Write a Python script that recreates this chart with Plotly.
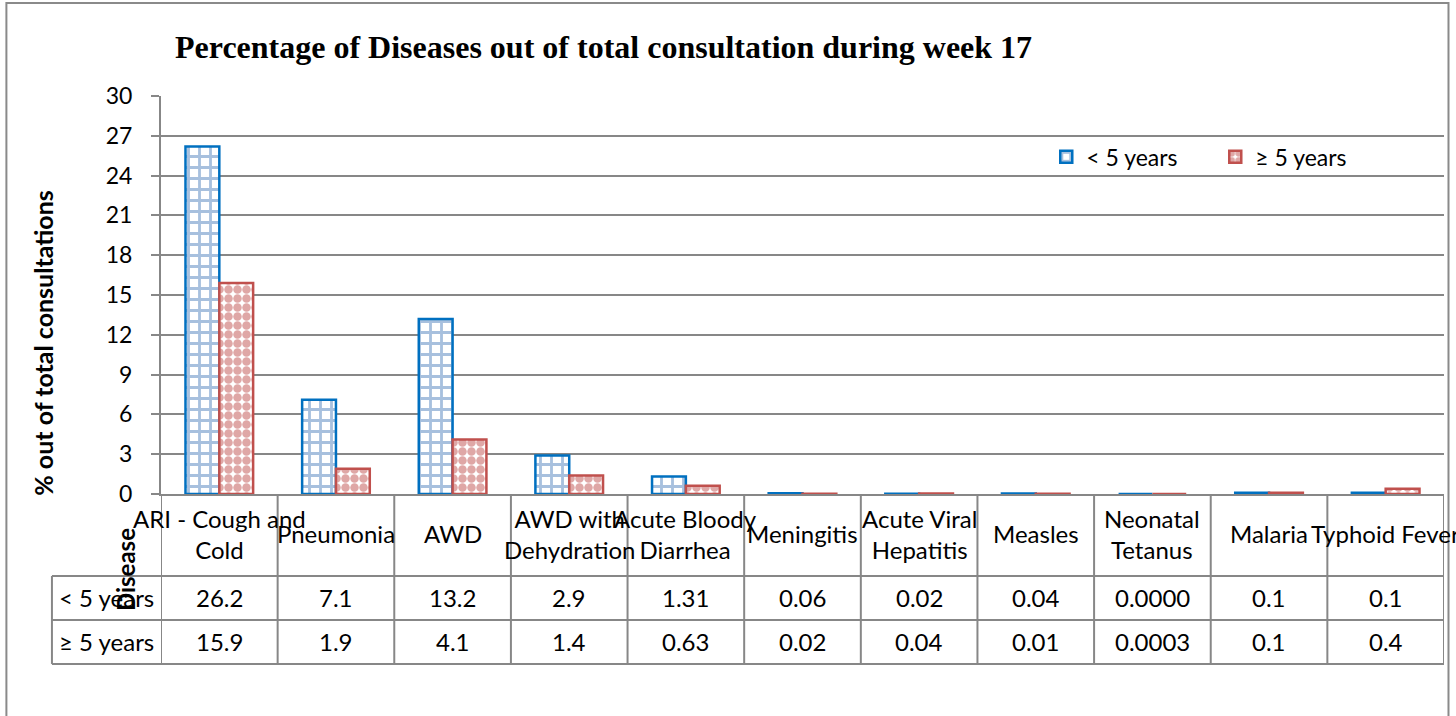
import plotly.graph_objects as go

categories = ["ARI - Cough and Cold", "Pneumonia", "AWD", "AWD with Dehydration",
              "Acute Bloody Diarrhea", "Meningitis", "Acute Viral Hepatitis",
              "Measles", "Neonatal Tetanus", "Malaria", "Typhoid Fever"]
category_labels = ["ARI - Cough and<br>Cold", "Pneumonia", "AWD", "AWD with<br>Dehydration",
                   "Acute Bloody<br>Diarrhea", "Meningitis", "Acute Viral<br>Hepatitis",
                   "Measles", "Neonatal<br>Tetanus", "Malaria", "Typhoid Fever"]
under5 = [26.2, 7.1, 13.2, 2.9, 1.31, 0.06, 0.02, 0.04, 0.0000, 0.1, 0.1]
over5 = [15.9, 1.9, 4.1, 1.4, 0.63, 0.02, 0.04, 0.01, 0.0003, 0.1, 0.4]
decimals = [1, 1, 1, 1, 2, 2, 2, 2, 4, 1, 1]
series_names = ["< 5 years", "≥ 5 years"]
y_ticks = list(range(0, 31, 3))

BLUE = "#0070C0"
BLUE_PAT = "#4F81BD"
RED = "#C0504D"
GRID = "#878787"
FONT = "Lato"

fig = go.Figure()
fig.add_trace(go.Bar(
    x=categories, y=under5, name=series_names[0],
    marker=dict(color="white", line=dict(color=BLUE, width=2.5),
                pattern=dict(shape="+", fgcolor=BLUE_PAT, bgcolor="white", size=11, solidity=0.45)),
))
fig.add_trace(go.Bar(
    x=categories, y=over5, name=series_names[1],
    marker=dict(color="white", line=dict(color=RED, width=2.5),
                pattern=dict(shape=".", fgcolor=RED, bgcolor="white", size=9, solidity=0.7)),
))

# table geometry (paper coordinates)
Y_HDR = -0.206
Y_R1 = -0.3166
Y_R2 = -0.427
X_LEFT = -0.085

shapes = []
line = dict(color=GRID, width=2)
for yy in [Y_HDR, Y_R1, Y_R2]:
    shapes.append(dict(type="line", xref="paper", yref="paper", x0=X_LEFT, x1=1, y0=yy, y1=yy, line=line))
n = len(categories)
for i in range(n + 1):
    shapes.append(dict(type="line", xref="x", yref="paper", x0=i - 0.5, x1=i - 0.5, y0=Y_R2, y1=0, line=line))
shapes.append(dict(type="line", xref="paper", yref="paper", x0=X_LEFT, x1=X_LEFT, y0=Y_R2, y1=Y_HDR, line=line))
# outer chart border
shapes.append(dict(type="rect", xref="paper", yref="paper", x0=-0.1205, x1=1.0035, y0=-0.6, y1=1.2337,
                   line=dict(color="#8a8a8a", width=2)))

annotations = []
annotations.append(dict(text="<b>Percentage of Diseases out of total consultation during week 17</b>",
                        xref="paper", yref="paper", x=0.009, y=1.124, xanchor="left", yanchor="middle",
                        showarrow=False, font=dict(family="Liberation Serif", size=32, color="black")))
annotations.append(dict(text="<b>% out of total consultations</b>", xref="paper", yref="paper",
                        x=-0.0915, y=0.379, xanchor="center", yanchor="middle", textangle=-90,
                        showarrow=False, font=dict(family=FONT, size=25, color="black")))
annotations.append(dict(text="<b>Disease</b>", xref="paper", yref="paper",
                        x=-0.028, y=-0.191, xanchor="center", yanchor="middle", textangle=-90,
                        showarrow=False, font=dict(family=FONT, size=24, color="black")))
for i, lab in enumerate(category_labels):
    annotations.append(dict(text=lab, xref="x", yref="paper", x=i, y=-0.1005, xanchor="center",
                            yanchor="middle", showarrow=False,
                            font=dict(family=FONT, size=24, color="black")))
for row_y, name, vals in [((Y_HDR + Y_R1) / 2, series_names[0], under5),
                          ((Y_R1 + Y_R2) / 2, series_names[1], over5)]:
    annotations.append(dict(text=name, xref="paper", yref="paper", x=X_LEFT + 0.004, y=row_y,
                            xanchor="left", yanchor="middle", showarrow=False,
                            font=dict(family=FONT, size=24, color="black")))
    for i, v in enumerate(vals):
        annotations.append(dict(text=f"{v:.{decimals[i]}f}", xref="x", yref="paper", x=i, y=row_y,
                                xanchor="center", yanchor="middle", showarrow=False,
                                font=dict(family=FONT, size=24, color="black")))

fig.update_layout(
    width=1456, height=716,
    margin=dict(l=161, r=12, t=96, b=222),
    paper_bgcolor="white", plot_bgcolor="white",
    barmode="group", bargap=0.42, bargroupgap=0,
    font=dict(family=FONT, size=23, color="black"),
    showlegend=True,
    legend=dict(orientation="h", x=0.69, y=0.847, xanchor="left", yanchor="middle",
                font=dict(family=FONT, size=23, color="black"), itemwidth=30,
                entrywidth=124, bgcolor="rgba(0,0,0,0)"),
    shapes=shapes, annotations=annotations,
)
fig.update_xaxes(range=[-0.5, n - 0.5], showticklabels=False, showgrid=False,
                 showline=True, linecolor=GRID, linewidth=2, ticks="")
fig.update_yaxes(range=[0, 30], tickvals=y_ticks, showgrid=True, gridcolor=GRID, gridwidth=2,
                 showline=True, linecolor=GRID, linewidth=2, ticks="outside", ticklen=8,
                 tickcolor=GRID, tickwidth=2, ticklabelstandoff=14,
                 tickfont=dict(family=FONT, size=23, color="black"), zeroline=False)

fig.write_html("out.html", config={"displayModeBar": False},
               post_script="document.body.style.margin='0';document.body.style.padding='0';")
